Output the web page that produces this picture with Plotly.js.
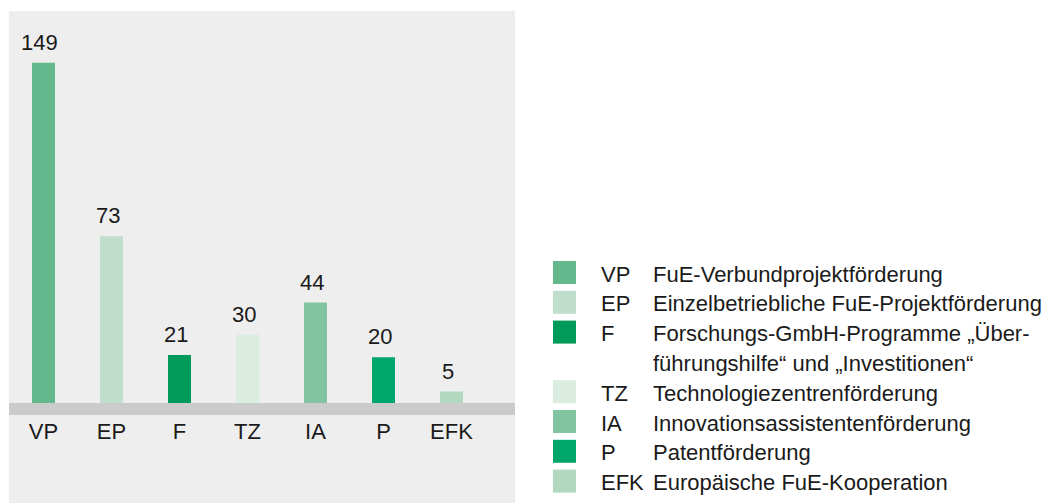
<!DOCTYPE html>
<html><head><meta charset="utf-8">
<script src="https://cdn.plot.ly/plotly-3.0.1.min.js"></script>
<style>html,body{margin:0;padding:0;background:#fff;}#chart{width:1057px;height:503px;}</style>
</head><body><div id="chart"></div>
<script>
// ---- data ----
const categories = ["VP", "EP", "F", "TZ", "IA", "P", "EFK"];
const values = [149, 73, 21, 30, 44, 20, 5];
const descriptions = [
  "FuE-Verbundprojektförderung",
  "Einzelbetriebliche FuE-Projektförderung",
  "Forschungs-GmbH-Programme „Über-<br>führungshilfe“ und „Investitionen“",
  "Technologiezentrenförderung",
  "Innovationsassistentenförderung",
  "Patentförderung",
  "Europäische FuE-Kooperation"
];
const colors = ["#63b98c", "#bfdecb", "#009b58", "#dbece1", "#82c4a0", "#00a66a", "#b2d8bf"];

// ---- layout helpers ----
const W = 1057, H = 503;
const FONT = "Liberation Sans, Arial, sans-serif";
const TXT = "#1a1a1a";
const FS = 22;
const px = x => x / W;
const py = y => 1 - y / H;

const shapes = [
  {type: "rect", xref: "paper", yref: "paper", x0: px(9), x1: px(515), y0: py(503), y1: py(11),
   fillcolor: "#eeeeee", line: {width: 0}, layer: "below"},
  {type: "rect", xref: "paper", yref: "paper", x0: px(9), x1: px(515), y0: py(415), y1: py(403),
   fillcolor: "#cbcbcb", line: {width: 0}, layer: "below"}
];
const annotations = [];

// value labels
categories.forEach((c, i) => {
  annotations.push({x: c, y: values[i], xref: "x", yref: "y", text: String(values[i]),
    showarrow: false, yanchor: "bottom", yshift: 6, xshift: -4,
    font: {family: FONT, size: FS, color: TXT}});
});

// legend
const ROW0 = 261, ROWH = 29.8, SQ = 23;
let row = 0;
categories.forEach((c, i) => {
  const top = ROW0 + row * ROWH;
  shapes.push({type: "rect", xref: "paper", yref: "paper", x0: px(553), x1: px(553 + SQ),
    y0: py(top + SQ), y1: py(top), fillcolor: colors[i], line: {width: 0}});
  annotations.push({xref: "paper", yref: "paper", x: px(599), y: py(top + SQ / 2 + 1.5),
    xanchor: "left", yanchor: "middle", text: c, showarrow: false,
    font: {family: FONT, size: FS, color: TXT}});
  const lines = descriptions[i].split("<br>");
  lines.forEach((ln, k) => {
    annotations.push({xref: "paper", yref: "paper", x: px(651), y: py(top + k * ROWH + SQ / 2 + 1.5),
      xanchor: "left", yanchor: "middle", text: ln, showarrow: false,
      font: {family: FONT, size: FS, color: TXT}});
  });
  row += lines.length;
});

const trace = {
  type: "bar", x: categories, y: values,
  marker: {color: colors, line: {width: 0}},
  hoverinfo: "x+y", showlegend: false
};

const layout = {
  width: W, height: H,
  margin: {l: 0, r: 0, t: 0, b: 0, pad: 0},
  paper_bgcolor: "#ffffff", plot_bgcolor: "rgba(0,0,0,0)",
  bargap: 0.662,
  showlegend: false,
  xaxis: {domain: [9.5 / W, 485.5 / W], showgrid: false, zeroline: false, showline: false,
    ticks: "", ticklabelstandoff: 13, tickfont: {family: FONT, size: FS, color: TXT}, fixedrange: true},
  yaxis: {domain: [100 / H, 1], range: [0, 176.5], showgrid: false, zeroline: false,
    showline: false, showticklabels: false, ticks: "", fixedrange: true},
  shapes: shapes,
  annotations: annotations
};

Plotly.newPlot("chart", [trace], layout, {displayModeBar: false, staticPlot: true});
</script>
</body></html>
